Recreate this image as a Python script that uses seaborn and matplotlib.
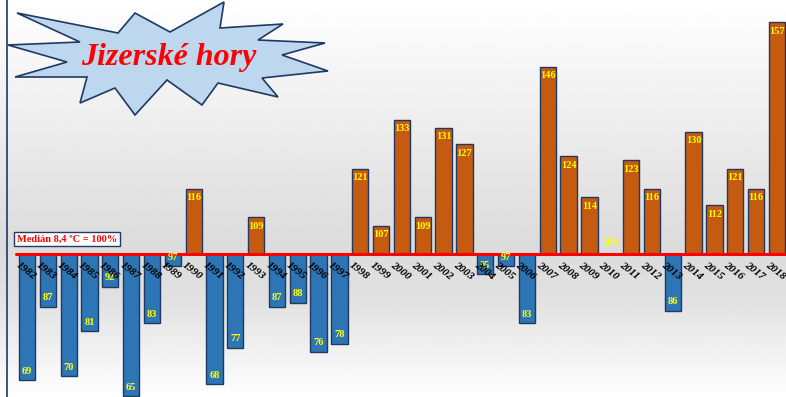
import numpy as np
import pandas as pd
import matplotlib
matplotlib.use("Agg")
import matplotlib.pyplot as plt
import seaborn as sns
from matplotlib.patches import Polygon

years = [str(y) for y in range(1982, 2019)]
values = [69, 87, 70, 81, 92, 65, 83, 97, 116, 68, 77, 109, 87, 88, 76, 78,
          121, 107, 133, 109, 131, 127, 95, 97, 83, 146, 124, 114, 100, 123,
          116, 86, 130, 112, 121, 116, 157]
baseline = 100
title_text = "Jizerské hory"
median_text = "Medián 8,4 ºC = 100%"

sns.set_theme(style="white")
plt.rcParams['font.family'] = ['Liberation Serif', 'DejaVu Serif']

W, H = 786, 397
fig = plt.figure(figsize=(W / 100, H / 100), dpi=100)

# background gradient
bg = fig.add_axes([0, 0, 1, 1])
yy = np.linspace(0, 1, 400)  # 0 top -> 1 bottom
shade = np.interp(yy, [0, 0.62, 0.75, 1.0], [1.0, 0.86, 0.88, 1.0])
img = np.repeat(shade[:, None], 10, axis=1)
bg.imshow(img, cmap="gray", vmin=0, vmax=1, aspect="auto", extent=[0, 1, 0, 1], origin="upper")
bg.set_xlim(0, 1); bg.set_ylim(0, 1)
bg.axis("off")
bg.plot([7 / W, 7 / W], [0, 1], color="#1f3864", lw=1.2)

# main axes
left_px = 8
ax = fig.add_axes([left_px / W, 0, (W - left_px) / W, 1])
ax.patch.set_alpha(0)
df = pd.DataFrame({"year": years, "value": values})
df["delta"] = df["value"] - baseline
df["sign"] = np.where(df["delta"] >= 0, "up", "down")

sns.barplot(data=df, x="year", y="delta", hue="sign", order=years,
            palette={"up": "#c55a11", "down": "#2e75b6"}, dodge=False,
            saturation=1, width=0.78, edgecolor="#1f3864", linewidth=1.0,
            legend=False, ax=ax)

px_per_unit = (375 - 143) / 57.0
ax.set_ylim(-143 / px_per_unit, (H - 143) / px_per_unit)
spacing = 20.83
xl = -(27 - left_px) / spacing
ax.set_xlim(xl, xl + (W - left_px) / spacing)
ax.axis("off")

# baseline
ax.plot([-0.55, 40], [0, 0], color="#ff0000", lw=2.2, zorder=5)

off = 9 / px_per_unit
for i, (yr, v) in enumerate(zip(years, values)):
    d = v - baseline
    if d > 0:
        ty = d - off
    elif d < 0:
        ty = d + off
    else:
        ty = 2.8
    ax.text(i, ty, str(v), ha="center", va="center", color="#ffff00",
            fontsize=7.5, fontweight="bold", zorder=6)
    ax.text(i - 0.35, -1.6, yr, ha="left", va="top", rotation=-38,
            rotation_mode="anchor", fontsize=8, fontweight="bold",
            fontstyle="italic", color="black", zorder=7)

# median label
fig.text(17 / W, 1 - 239 / H, median_text, ha="left", va="center",
         color="#ff0000", fontsize=7.5, fontweight="bold",
         bbox=dict(boxstyle="square,pad=0.25", fc="white", ec="#1f3864", lw=1))

# starburst title
pts_px = [(17, 13), (118, 33), (135, 13), (170, 32), (224, 2), (220, 28),
          (283, 24), (258, 40), (325, 43), (282, 55), (328, 71), (262, 78),
          (278, 97), (218, 83), (202, 105), (167, 80), (135, 115), (115, 88),
          (80, 103), (87, 77), (15, 77), (67, 62), (8, 45), (80, 42)]
pts = [(x / W, 1 - y / H) for x, y in pts_px]
fig.patches.append(Polygon(pts, closed=True, transform=fig.transFigure,
                           fc="#bdd7ee", ec="#1f3864", lw=1.2, zorder=10))
fig.text(169 / W, 1 - 57 / H, title_text, ha="center", va="center",
         color="#ff0000", fontsize=23, fontweight="bold", fontstyle="italic",
         zorder=11)

fig.savefig("out.png", dpi=100)
